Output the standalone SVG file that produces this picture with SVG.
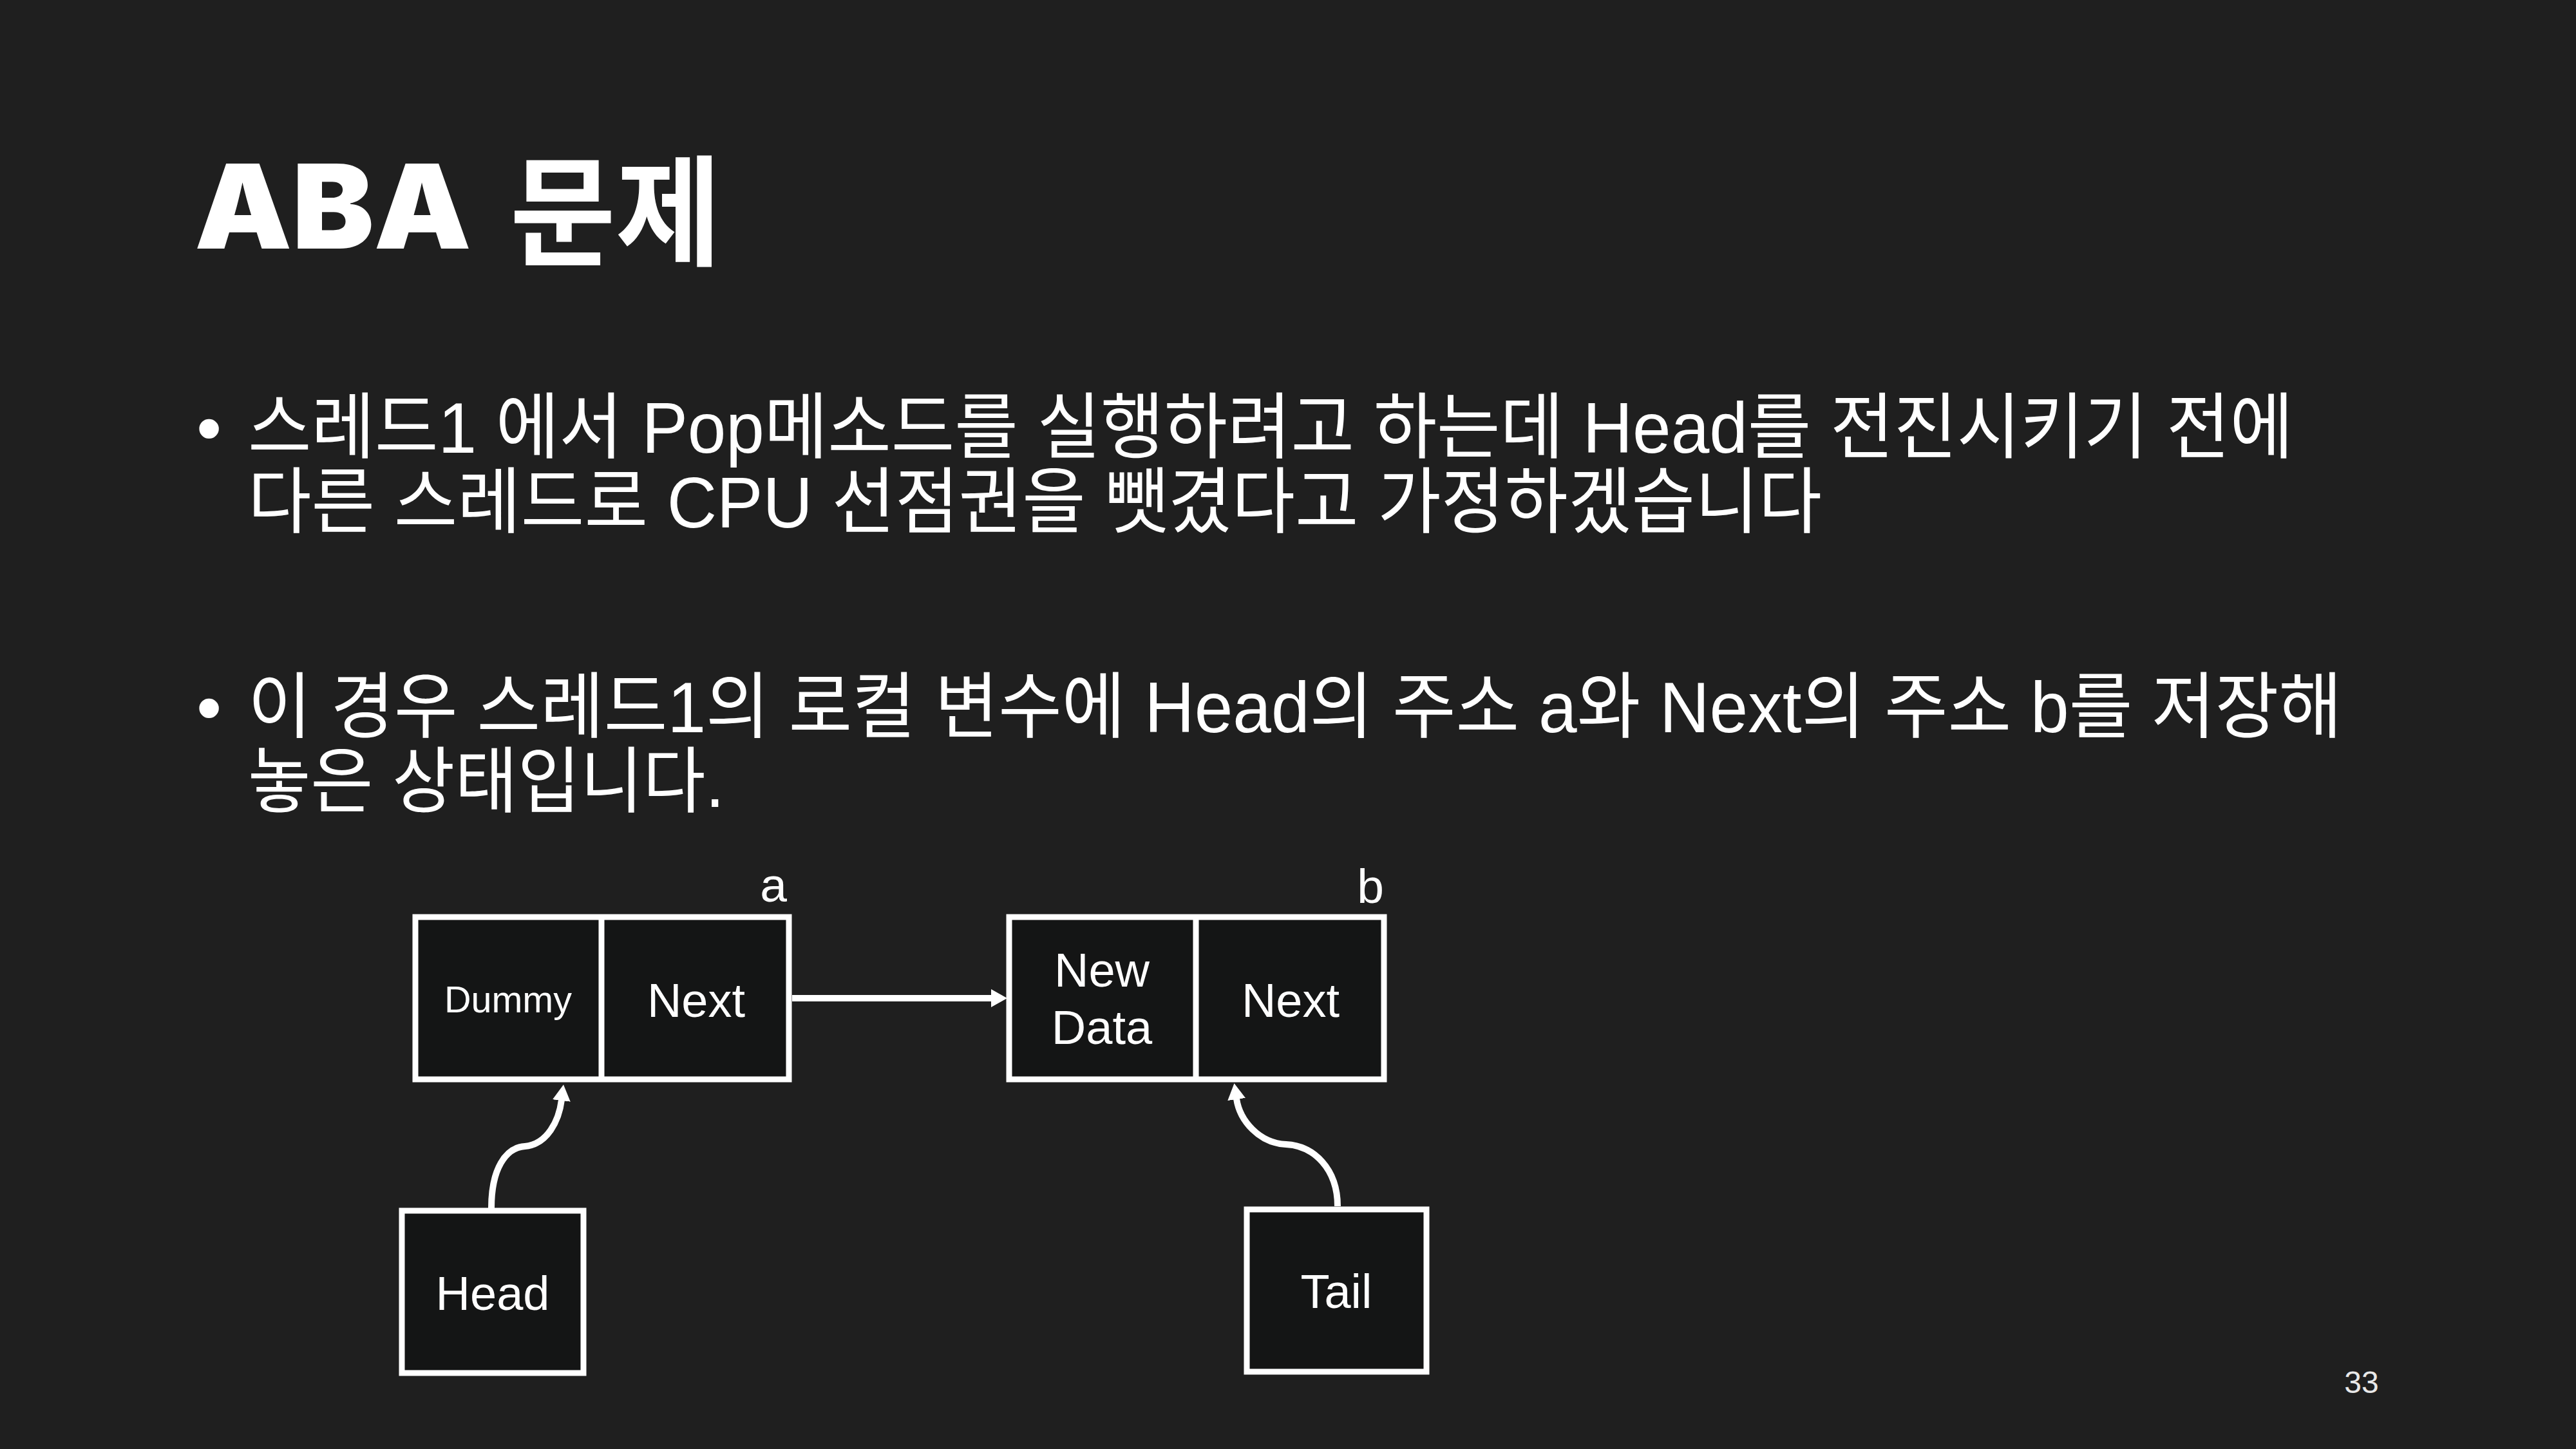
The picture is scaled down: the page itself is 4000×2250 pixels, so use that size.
<svg xmlns="http://www.w3.org/2000/svg" width="4000" height="2250" viewBox="0 0 4000 2250">
<defs>
<style>
.bg{fill:#1f1f1f}
.body{font-family:"Liberation Sans","Noto Sans CJK KR",sans-serif;font-size:112px;fill:#ffffff}
.box{fill:#141515;stroke:#ffffff;stroke-width:9}
.div{stroke:#ffffff;stroke-width:9}
.lbl{font-family:"Liberation Sans",Arial,sans-serif;font-size:74px;fill:#ffffff;text-anchor:middle}
.sm{font-size:57px}
.ab{font-size:75px}
.conn{fill:none;stroke:#ffffff;stroke-width:10}
</style>
<marker id="ah" viewBox="0 0 25 28" refX="1" refY="14" markerWidth="25" markerHeight="28" markerUnits="userSpaceOnUse" orient="auto">
<path d="M0,0 L25,14 L0,28 z" fill="#ffffff"/>
</marker>
</defs>
<rect class="bg" x="0" y="0" width="4000" height="2250"/>

<g id="title">
<text x="302" y="386" font-family="Inter,'Liberation Sans',sans-serif" font-weight="900" font-size="182" fill="#ffffff" textLength="430" lengthAdjust="spacingAndGlyphs">ABA</text>
<text x="792" y="398" font-family="'Noto Sans CJK KR',sans-serif" font-weight="700" font-size="186" fill="#ffffff" textLength="328" lengthAdjust="spacingAndGlyphs">문제</text>
</g>

<g id="bullets">
<text class="body" x="305" y="703">•</text>
<text class="body" x="385" y="703" textLength="3176" lengthAdjust="spacingAndGlyphs">스레드1 에서 Pop메소드를 실행하려고 하는데 Head를 전진시키기 전에</text>
<text class="body" x="385" y="819" textLength="2444" lengthAdjust="spacingAndGlyphs">다른 스레드로 CPU 선점권을 뺏겼다고 가정하겠습니다</text>
<text class="body" x="305" y="1137">•</text>
<text class="body" x="385" y="1137" textLength="3252" lengthAdjust="spacingAndGlyphs">이 경우 스레드1의 로컬 변수에 Head의 주소 a와 Next의 주소 b를 저장해</text>
<text class="body" x="385" y="1253" textLength="740" lengthAdjust="spacingAndGlyphs">놓은 상태입니다.</text>
</g>

<g id="node-a">
<rect class="box" x="645" y="1424" width="580" height="252"/>
<line class="div" x1="934" y1="1424" x2="934" y2="1676"/>
<text class="lbl sm" x="789" y="1572" textLength="198" lengthAdjust="spacingAndGlyphs">Dummy</text>
<text class="lbl" x="1081" y="1579">Next</text>
<text class="lbl ab" x="1201" y="1400">a</text>
</g>

<g id="node-b">
<rect class="box" x="1567" y="1424" width="582" height="252"/>
<line class="div" x1="1857" y1="1424" x2="1857" y2="1676"/>
<text class="lbl" x="1711" y="1532">New</text>
<text class="lbl" x="1711" y="1621">Data</text>
<text class="lbl" x="2004" y="1579">Next</text>
<text class="lbl ab" x="2128" y="1402">b</text>
</g>

<g id="node-head">
<rect class="box" x="624" y="1880" width="282" height="252"/>
<text class="lbl" x="765" y="2034">Head</text>
</g>

<g id="node-tail">
<rect class="box" x="1936" y="1878" width="279" height="252"/>
<text class="lbl" x="2075" y="2031">Tail</text>
</g>

<g id="connectors">
<path class="conn" d="M1230,1550 L1540,1550" marker-end="url(#ah)"/>
<path class="conn" d="M763,1876 C763,1815 785,1782 815,1780 C850,1777 868,1740 872,1708" marker-end="url(#ah)"/>
<path class="conn" d="M2077,1873 C2077,1815 2040,1779 1997,1777 C1955,1775 1925,1740 1920,1706" marker-end="url(#ah)"/>
</g>

<text x="3667" y="2163" font-family="'Liberation Sans',Arial,sans-serif" font-size="48" fill="#e8e8e8" text-anchor="middle">33</text>
</svg>
